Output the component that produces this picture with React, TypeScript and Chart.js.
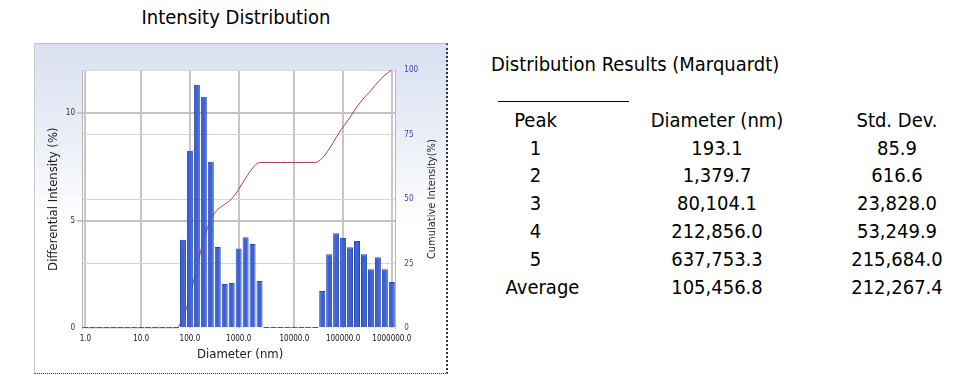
import React, { useEffect, useRef } from 'react';
import { Chart, registerables } from 'chart.js';

Chart.register(...registerables);

const FONT = "'DejaVu Sans Condensed', 'DejaVu Sans', sans-serif";

// 45 log-spaced diameter bins; only the decade bins carry a tick label
const binLabels = [
  '1.0', '', '', '', '', '', '', '',
  '10.0', '', '', '', '', '', '',
  '100.0', '', '', '', '', '', '',
  '1000.0', '', '', '', '', '', '', '',
  '10000.0', '', '', '', '', '', '',
  '100000.0', '', '', '', '', '', '',
  '1000000.0',
];

// Differential intensity (%) per bin
const differentialIntensity = [
  0, 0, 0, 0, 0, 0, 0, 0, 0, 0, 0, 0, 0, 0,
  4.11, 8.25, 11.32, 10.76, 7.74, 3.78, 2.06, 2.11, 3.71, 4.23, 3.92, 2.2,
  0, 0, 0, 0, 0, 0, 0, 0,
  1.73, 3.44, 4.42, 4.19, 3.77, 4.06, 3.44, 2.74, 3.3, 2.74, 2.15,
];

// Cumulative intensity (%) per bin
const cumulativeIntensity = [
  0, 0, 0, 0, 0, 0, 0, 0, 0, 0, 0, 0, 0, 0,
  4.1, 12.4, 23.7, 34.4, 42.2, 46.0, 48.0, 50.1, 53.8, 58.1, 62.0, 64.2,
  64.2, 64.2, 64.2, 64.2, 64.2, 64.2, 64.2, 64.2,
  65.9, 69.4, 73.8, 78.0, 81.7, 85.8, 89.2, 92.0, 95.3, 98.0, 100,
];

// Results table
const tableHeaders = ['Peak', 'Diameter (nm)', 'Std. Dev.'];
const peakNames = ['1', '2', '3', '4', '5', 'Average'];
const peakDiameters = ['193.1', '1,379.7', '80,104.1', '212,856.0', '637,753.3', '105,456.8'];
const peakStdDevs = ['85.9', '616.6', '23,828.0', '53,249.9', '215,684.0', '212,267.4'];

const decoPlugin = {
  id: 'deco',
  beforeDraw(chart: any) {
    const { ctx, chartArea: a } = chart;
    ctx.save();
    ctx.fillStyle = '#ffffff';
    ctx.fillRect(a.left, a.top, a.right - a.left, a.bottom - a.top);
    ctx.restore();
  },
  beforeDatasetsDraw(chart: any) {
    // zero-height bins show as short dark dashes on the baseline
    const { ctx } = chart;
    const meta = chart.getDatasetMeta(0);
    ctx.save();
    ctx.fillStyle = '#5a5a5a';
    meta.data.forEach((bar: any, i: number) => {
      if (differentialIntensity[i] === 0) {
        const p = bar.getProps(['x', 'width', 'base'], true);
        ctx.fillRect(p.x - p.width / 2, Math.round(p.base) - 1, p.width, 1);
      }
    });
    ctx.restore();
  },
  afterDraw(chart: any) {
    const { ctx, chartArea: a } = chart;
    ctx.save();
    ctx.textAlign = 'center';
    ctx.textBaseline = 'middle';
    ctx.fillStyle = '#1c1c1c';
    ctx.font = `13px ${FONT}`;
    ctx.fillText('Diameter (nm)', (a.left + a.right) / 2 + 1.5, a.bottom + 26.7);
    ctx.save();
    ctx.translate(a.left - 28.7, (a.top + a.bottom) / 2);
    ctx.rotate(-Math.PI / 2);
    ctx.fillText('Differential Intensity (%)', 0, 0);
    ctx.restore();
    ctx.save();
    ctx.font = `11px ${FONT}`;
    ctx.fillStyle = '#2a2a2a';
    ctx.translate(a.right + 36.4, (a.top + a.bottom) / 2);
    ctx.rotate(-Math.PI / 2);
    ctx.fillText('Cumulative Intensity(%)', 0, 0);
    ctx.restore();
    ctx.restore();
  },
};

function IntensityChart() {
  const ref = useRef<HTMLCanvasElement | null>(null);
  useEffect(() => {
    if (!ref.current) return;
    const tickFont = { family: FONT, size: 8 };
    const chart = new Chart(ref.current, {
      type: 'bar',
      data: {
        labels: binLabels,
        datasets: [
          {
            type: 'bar',
            data: differentialIntensity,
            yAxisID: 'y',
            backgroundColor: '#3d62d6',
            borderColor: '#2a48b0',
            borderWidth: 1,
            barPercentage: 0.86,
            categoryPercentage: 1,
            order: 1,
          } as any,
          {
            type: 'line',
            data: cumulativeIntensity,
            yAxisID: 'y2',
            borderColor: '#b23a4a',
            borderWidth: 1,
            pointRadius: 0,
            fill: false,
            cubicInterpolationMode: 'monotone',
            order: 2,
          } as any,
        ],
      },
      options: {
        animation: false,
        responsive: false,
        events: [],
        layout: { padding: { left: 0, top: 70, right: 4.7, bottom: 12.7 } },
        plugins: { legend: { display: false }, tooltip: { enabled: false }, title: { display: false } },
        scales: {
          x: {
            type: 'category',
            offset: true,
            grid: { offset: false, color: '#c6c6c6', lineWidth: 2, drawTicks: false },
            border: { display: false },
            ticks: {
              autoSkip: false,
              maxRotation: 0,
              minRotation: 0,
              padding: 6,
              color: '#111111',
              font: tickFont,
            },
            afterBuildTicks: (s: any) => {
              s.ticks = s.ticks.filter((t: any) => binLabels[t.value] !== '');
            },
            afterFit: (s: any) => {
              s.height = 45;
            },
          },
          y: {
            position: 'left',
            min: 0,
            max: 12,
            ticks: { stepSize: 5, includeBounds: false, padding: 2, color: '#2a2a2a', font: tickFont },
            grid: {
              color: (c: any) => (c.tick && c.tick.value === 0 ? 'rgba(0,0,0,0)' : '#c3c3c3'),
              lineWidth: 2,
              tickLength: 5,
            },
            border: { color: '#b5b5b5', width: 1 },
            afterFit: (s: any) => {
              s.width = 82;
            },
          },
          y2: {
            position: 'right',
            min: 0,
            max: 100,
            ticks: { stepSize: 25, padding: 9, color: '#3b3bab', font: tickFont },
            grid: {
              color: (c: any) => (c.tick && c.tick.value === 0 ? 'rgba(0,0,0,0)' : '#d6d6d6'),
              lineWidth: 1,
              drawTicks: false,
            },
            border: { color: '#b5b5b5', width: 1 },
            afterFit: (s: any) => {
              s.width = 50;
            },
          },
        },
      } as any,
      plugins: [decoPlugin],
    });
    return () => chart.destroy();
  }, []);
  return (
    <canvas
      ref={ref}
      width={450}
      height={386}
      style={{ position: 'absolute', left: 0, top: 0, width: 450, height: 386 }}
    />
  );
}

const centered = (x: number, y: number, size: number): React.CSSProperties => ({
  position: 'absolute',
  left: x,
  top: y,
  transform: 'translate(-50%, -50%)',
  fontSize: size,
  lineHeight: 1,
  whiteSpace: 'nowrap',
});

export default function App() {
  const colX = [535.5, 717, 897];
  const headerY = 120;
  const rowY = [147.5, 175.2, 203.2, 231, 258.6, 286.6];
  return (
    <div
      style={{
        position: 'fixed',
        left: 0,
        top: 0,
        width: 961,
        height: 386,
        background: '#ffffff',
        overflow: 'hidden',
        fontFamily: FONT,
        color: '#000',
      }}
    >
      <div style={centered(236, 17, 20)}>Intensity Distribution</div>
      <div
        style={{
          position: 'absolute',
          left: 34,
          top: 43,
          width: 411,
          height: 329,
          background: 'linear-gradient(to bottom, #d9e0f1 0%, #eaeef7 28%, #ffffff 55%)',
          borderLeft: '1px solid #c9c9c9',
          borderTop: '1px solid #b8bfcd',
          borderRight: '2px dotted #333',
          borderBottom: '1px dotted #444',
        }}
      />
      <IntensityChart />
      <div
        style={{
          position: 'absolute',
          left: 491,
          top: 64.3,
          transform: 'translateY(-50%)',
          fontSize: 20,
          lineHeight: 1,
          whiteSpace: 'nowrap',
        }}
      >
        Distribution Results (Marquardt)
      </div>
      <div style={{ position: 'absolute', left: 498, top: 100.5, width: 131, height: 1, background: '#000' }} />
      {tableHeaders.map((h, i) => (
        <div key={'h' + i} style={centered(colX[i], headerY, 20)}>
          {h}
        </div>
      ))}
      {peakNames.map((p, r) => (
        <React.Fragment key={'r' + r}>
          <div style={centered(colX[0] + (p === 'Average' ? 7 : 0), rowY[r], 20)}>{p}</div>
          <div style={centered(colX[1], rowY[r], 20)}>{peakDiameters[r]}</div>
          <div style={centered(colX[2], rowY[r], 20)}>{peakStdDevs[r]}</div>
        </React.Fragment>
      ))}
    </div>
  );
}
